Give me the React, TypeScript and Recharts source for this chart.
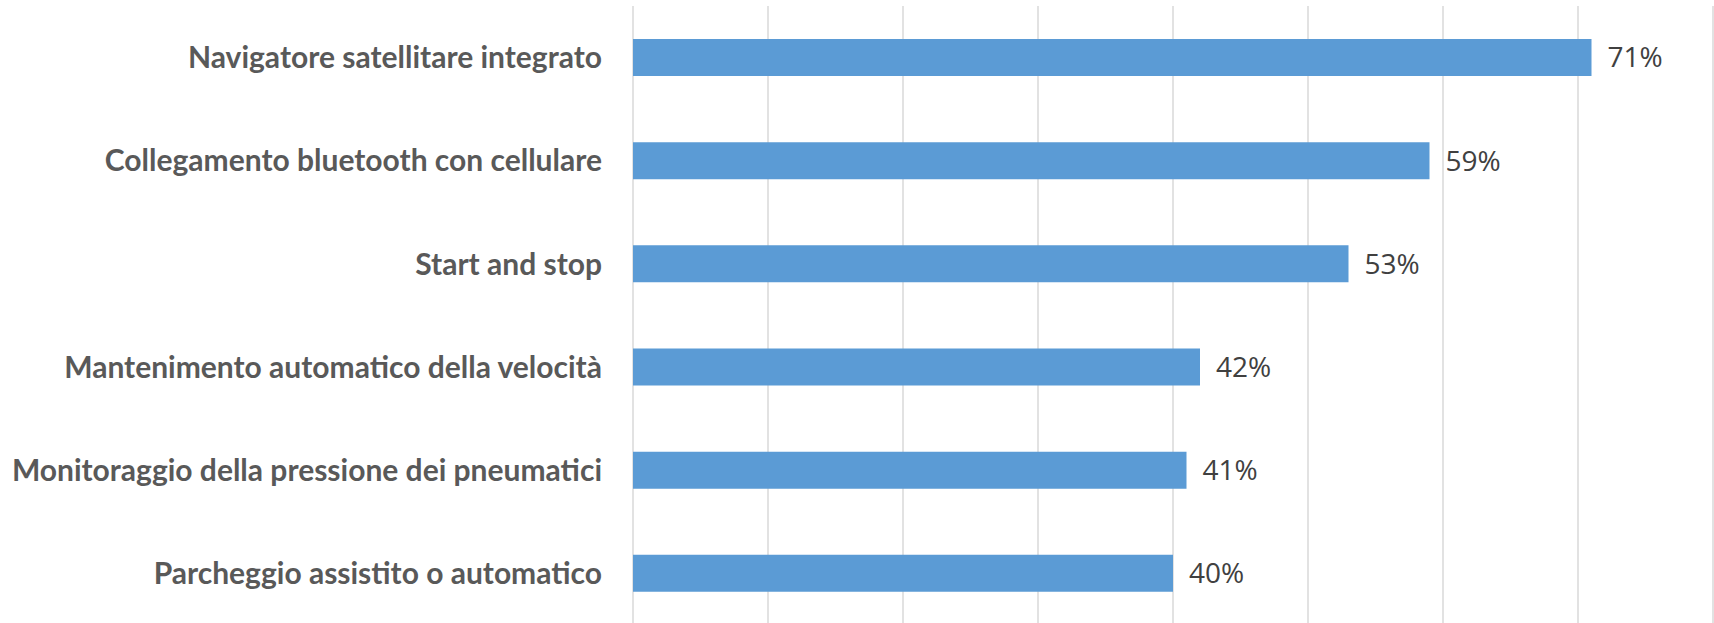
import React from 'react';
import { BarChart, Bar, XAxis, YAxis, CartesianGrid, LabelList } from 'recharts';

const categories = [
  'Navigatore satellitare integrato',
  'Collegamento bluetooth con cellulare',
  'Start and stop',
  'Mantenimento automatico della velocità',
  'Monitoraggio della pressione dei pneumatici',
  'Parcheggio assistito o automatico',
];
const values = [71, 59, 53, 42, 41, 40];
const xTicks = [0, 10, 20, 30, 40, 50, 60, 70, 80];

const data = categories.map((name, i) => ({ name, value: values[i] }));

export default function App() {
  return (
    <div style={{ position: 'absolute', left: 0, top: 0, width: 1714, height: 623, overflow: 'hidden', background: '#fff' }}>
      <BarChart
        width={1714}
        height={631}
        data={data}
        layout="vertical"
        margin={{ top: 6, right: 1, bottom: 6, left: 0 }}
        barCategoryGap="32%"
      >
        <CartesianGrid horizontal={false} vertical={true} stroke="#d9d9d9" strokeWidth={1.5} />
        <XAxis type="number" domain={[0, 80]} ticks={xTicks} hide />
        <YAxis
          type="category"
          dataKey="name"
          width={633}
          axisLine={false}
          tickLine={false}
          tickSize={6}
          tickMargin={25}
          tick={{ fill: '#595959', fontSize: 30, fontWeight: 700, fontFamily: 'Lato, "Open Sans", sans-serif' }}
        />
        <Bar dataKey="value" fill="#5b9bd5" barSize={37} isAnimationActive={false}>
          <LabelList
            dataKey="value"
            position="right"
            offset={16}
            formatter={(v: any) => `${v}%`}
            style={{ fill: '#404040', fontSize: 28, fontFamily: '"Open Sans", Lato, sans-serif' }}
          />
        </Bar>
      </BarChart>
    </div>
  );
}
